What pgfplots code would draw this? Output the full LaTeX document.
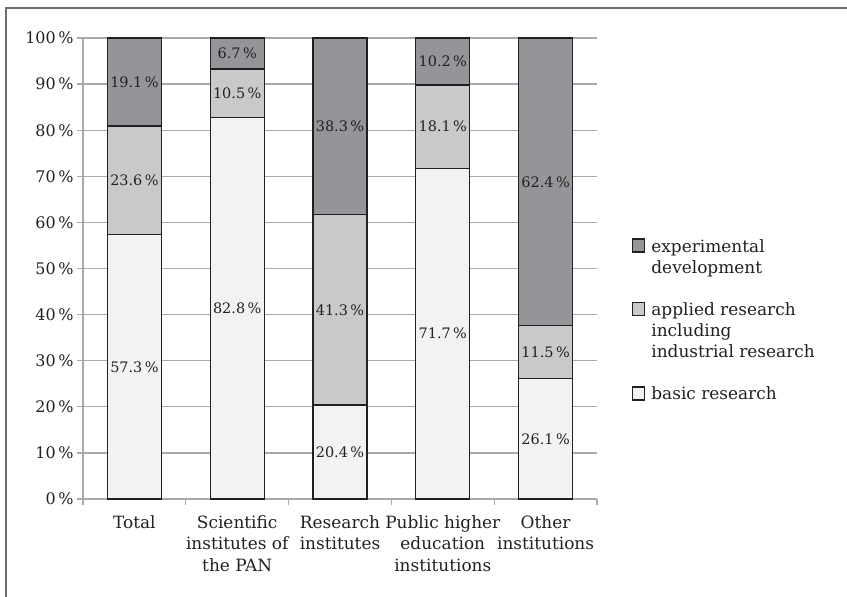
\documentclass[border=0pt]{standalone}
\usepackage{fontspec}
\setmainfont{DejaVu Serif}
\usepackage{pgfplots}
\pgfplotsset{compat=1.18}

\definecolor{expgray}{HTML}{939598}
\definecolor{appgray}{HTML}{C8C9CB}
\definecolor{basgray}{HTML}{F1F2F4}
\definecolor{gridgray}{HTML}{A7A9AC}
\definecolor{framegray}{HTML}{6D6E70}
\definecolor{barline}{HTML}{231F20}

\begin{document}
\begin{tikzpicture}
\useasboundingbox (-83bp,-98bp) rectangle (764bp,499bp);
\draw[line width=1.3bp, framegray] (-77bp,-98bp) -- (-77bp,491bp) -- (764bp,491bp);

\begin{axis}[
at={(0,0)}, anchor=south west,
scale only axis,
width=514bp, height=461bp,
ybar stacked,
bar width=0.525,
xmin=-0.5, xmax=4.5,
ymin=0, ymax=100,
axis lines*=left,
axis line style={gridgray, line width=1.2bp},
xtick={0,1,2,3,4},
xticklabels={{Total},{Scientific\\institutes of\\the PAN},{Research\\institutes},{Public higher\\education\\institutions},{Other\\institutions}},
xticklabel style={align=center, font=\fontsize{17}{21.5}\selectfont, text=barline, yshift=-7bp},
major x tick style={draw=none},
minor xtick={-0.5,0.5,1.5,2.5,3.5,4.5},
minor tick length=6bp,
major tick length=6bp,
tick align=outside,
tick style={gridgray, line width=1.2bp},
ytick={0,10,...,100},
yticklabel={\pgfmathprintnumber{\tick}\,\%},
yticklabel style={font=\fontsize{16}{20}\selectfont, text=barline},
/pgf/number format/assume math mode=true,
ymajorgrids,
grid style={gridgray, line width=1.2bp},
every axis plot/.append style={draw=barline, line width=1.3bp},
nodes near coords={\pgfmathprintnumber[fixed,fixed zerofill,precision=1]{\pgfplotspointmeta}\,\%},
point meta=rawy,
every node near coord/.append style={anchor=center, text=barline,
  font=\fontsize{14.5}{17}\selectfont},
reverse legend,
legend style={draw=none, fill=none, at={(1,0.568)}, anchor=north west,
  xshift=35bp, inner sep=0pt, row sep=5bp, column sep=6bp,
  nodes={inner sep=0pt}, cells={anchor=base west},
  font=\fontsize{17}{21}\selectfont, text=barline},
legend image code/.code={\draw[#1,/tikz/.cd,line width=1.2bp,bar shift=0pt] (0bp,0bp) rectangle (12bp,13bp);},
]
% basic research
\addplot[fill=basgray] coordinates {(0,57.3) (1,82.8) (2,20.4) (3,71.7) (4,26.1)};
\addlegendentry{\strut basic research}
\addlegendimage{empty legend}\addlegendentry{\strut}
\addlegendimage{empty legend}\addlegendentry{\strut industrial research}
\addlegendimage{empty legend}\addlegendentry{\strut including}
% applied research
\addplot[fill=appgray] coordinates {(0,23.6) (1,10.5) (2,41.3) (3,18.1) (4,11.5)};
\addlegendentry{\strut applied research}
\addlegendimage{empty legend}\addlegendentry{\strut}
\addlegendimage{empty legend}\addlegendentry{\strut development}
% experimental development
\addplot[fill=expgray] coordinates {(0,19.1) (1,6.7) (2,38.3) (3,10.2) (4,62.4)};
\addlegendentry{\strut experimental}
\end{axis}
\end{tikzpicture}
\end{document}
